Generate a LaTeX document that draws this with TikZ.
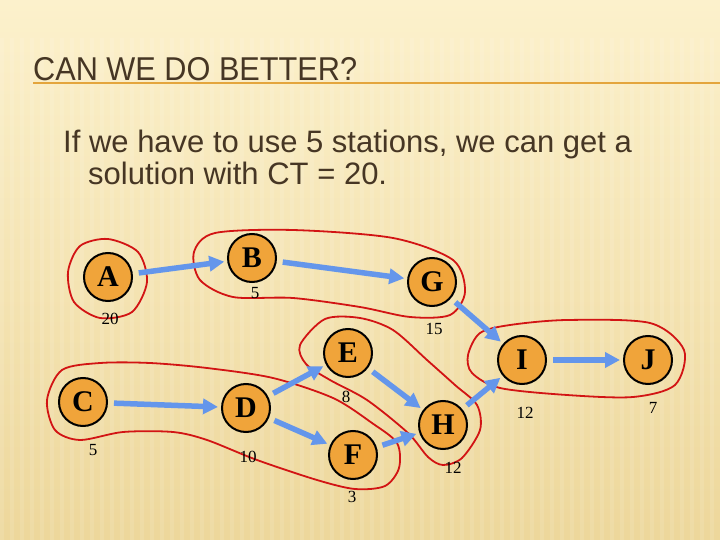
\documentclass[tikz,border=0pt]{standalone}
\usepackage{fontspec}
\setmainfont{Liberation Serif}
\newfontfamily\arialf{Liberation Sans}
\usetikzlibrary{arrows.meta}
\definecolor{bgtop}{RGB}{252,241,204}
\definecolor{bgbot}{RGB}{237,215,155}
\definecolor{nodeor}{RGB}{240,164,58}
\definecolor{arrblue}{RGB}{100,150,235}
\definecolor{stred}{RGB}{210,20,20}
\definecolor{titlec}{RGB}{70,54,36}
\definecolor{lineor}{RGB}{228,165,60}
\begin{document}
\begin{tikzpicture}[x=1bp,y=-1bp,
  task/.style={circle,draw=black,line width=2bp,fill=nodeor,minimum size=48bp,inner sep=0pt,
    font=\fontsize{30bp}{30bp}\selectfont\bfseries},
  num/.style={font=\fontsize{17bp}{17bp}\selectfont,inner sep=0pt},
  flow/.style={draw=arrblue,line width=5.5bp,-{Triangle[length=15bp,width=15bp]},
    shorten <=6bp,shorten >=3bp},
  station/.style={draw=stred,line width=1.8bp},
  bodytext/.style={anchor=base west,inner sep=0pt,text=titlec,
    font=\arialf\fontsize{31bp}{31bp}\selectfont}]
% background
\useasboundingbox (0,0) rectangle (720,540);
\shade[top color=bgtop,bottom color=bgbot] (0,0) rectangle (720,540);
\foreach \x in {0,10,...,720} {
  \fill[white,opacity=0.11] (\x,38) rectangle ++(4,502);
}
% title
\node[anchor=base west,inner sep=0pt,text=titlec,xscale=0.93,
  font=\arialf\fontsize{33bp}{33bp}\selectfont] (title) at (33,81) {CAN WE DO BETTER?};
\coordinate (ulA) at (33,83);
\coordinate (ulB) at (720,83);
\draw[lineor,line width=2bp] (ulA) -- (ulB);
\node[bodytext] (line1) at (63,153) {If we have to use 5 stations, we can get a};
\node[bodytext] (line2) at (88,185) {solution with CT = 20.};
% stations
\draw[station] plot[smooth cycle] coordinates {(68,272) (80,246) (108,239) (138,252) (147,282) (132,312) (100,318) (74,302)};
\draw[station] plot[smooth cycle] coordinates {(194,252) (215,233) (293,230) (393,238) (453,260) (465,292) (450,315) (410,317) (360,307) (293,298) (233,297) (200,280)};
\draw[station] plot[smooth cycle] coordinates {(47,400) (62,370) (100,363) (150,363) (207,368) (273,378) (333,398) (372,423) (397,443) (399,468) (385,486) (355,489) (317,480) (257,460) (207,440) (173,432) (123,432) (80,440) (55,430)};
\draw[station] plot[smooth cycle] coordinates {(300,345) (325,319) (360,318) (393,330) (427,360) (455,385) (477,405) (480,430) (462,458) (443,465) (428,457) (408,433) (367,400) (330,380) (306,364)};
\draw[station] plot[smooth cycle] coordinates {(468,355) (480,333) (510,325) (567,320) (650,323) (684,350) (675,385) (633,397) (567,395) (500,388) (472,373)};
% tasks
\node[task] (A) at (108,277) {A};
\node[task] (B) at (252,258) {B};
\node[task] (G) at (432,282) {G};
\node[task] (E) at (348,353) {E};
\node[task] (C) at (83,402) {C};
\node[task] (D) at (246,408) {D};
\node[task] (H) at (443,425) {H};
\node[task] (F) at (353,455) {F};
\node[task] (I) at (522,360) {I};
\node[task] (J) at (648,360) {J};
% times
\node[num] (tA) at (110,319) {20};
\node[num] (tB) at (255,293) {5};
\node[num] (tG) at (434,329) {15};
\node[num] (tE) at (346,397) {8};
\node[num] (tC) at (93,450) {5};
\node[num] (tD) at (248,457) {10};
\node[num] (tF) at (352,497) {3};
\node[num] (tH) at (453,468) {12};
\node[num] (tI) at (525,413) {12};
\node[num] (tJ) at (653,408) {7};
% flows
\draw[flow] (A) -- (B);
\draw[flow] (B) -- (G);
\draw[flow] (G) -- (I);
\draw[flow] (C) -- (D);
\draw[flow] (D) -- (E);
\draw[flow] (D) -- (F);
\draw[flow] (E) -- (H);
\draw[flow] (F) -- (H);
\draw[flow] (H) -- (I);
\draw[flow] (I) -- (J);
\end{tikzpicture}
\end{document}
